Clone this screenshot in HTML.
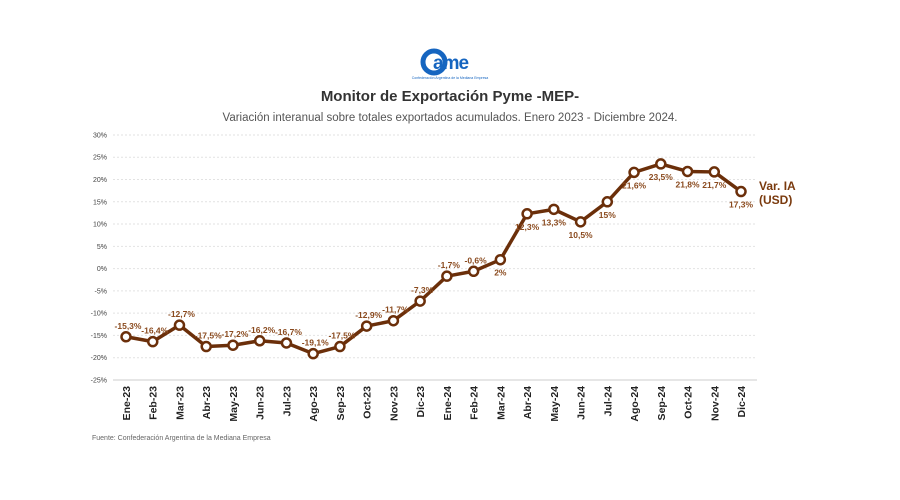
<!DOCTYPE html>
<html><head><meta charset="utf-8"><style>
body{margin:0;background:#fff;font-family:"Liberation Sans",sans-serif;}
#wrap{position:relative;width:900px;height:500px;overflow:hidden;}
</style></head><body>
<div id="wrap">
<svg id="chart" width="900" height="500">
  <g>
    <circle cx="434" cy="62" r="11" fill="none" stroke="#1565c0" stroke-width="5"/>
    <text x="433" y="69" font-size="19" font-weight="bold" fill="#1565c0" letter-spacing="-1">ame</text>
    <text x="450" y="79" font-size="3.5" fill="#1565c0" text-anchor="middle">Confederación Argentina de la Mediana Empresa</text>
  </g>
  <text x="450" y="101" font-size="15" font-weight="bold" fill="#333" text-anchor="middle">Monitor de Exportación Pyme -MEP-</text>
  <text x="450" y="121" font-size="11.5" fill="#555" text-anchor="middle">Variación interanual sobre totales exportados acumulados. Enero 2023 - Diciembre 2024.</text>
  <g id="grid"></g><g id="xaxis"></g><g id="series"></g>
  <text x="759" y="190" font-size="12" font-weight="bold" fill="#7a3a0e">Var. IA</text>
  <text x="759" y="204" font-size="12" font-weight="bold" fill="#7a3a0e">(USD)</text>
  <text x="92" y="440" font-size="7" fill="#666">Fuente: Confederación Argentina de la Mediana Empresa</text>
</svg>
</div>
<script>
const categories=["Ene-23","Feb-23","Mar-23","Abr-23","May-23","Jun-23","Jul-23","Ago-23","Sep-23","Oct-23","Nov-23","Dic-23","Ene-24","Feb-24","Mar-24","Abr-24","May-24","Jun-24","Jul-24","Ago-24","Sep-24","Oct-24","Nov-24","Dic-24"];
const values=[-15.3,-16.4,-12.7,-17.5,-17.2,-16.2,-16.7,-19.1,-17.5,-12.9,-11.7,-7.3,-1.7,-0.6,2,12.3,13.3,10.5,15,21.6,23.5,21.8,21.7,17.3];
const valueLabels=["-15,3%","-16,4%","-12,7%","-17,5%","-17,2%","-16,2%","-16,7%","-19,1%","-17,5%","-12,9%","-11,7%","-7,3%","-1,7%","-0,6%","2%","12,3%","13,3%","10,5%","15%","21,6%","23,5%","21,8%","21,7%","17,3%"];
const yTicks=[30,25,20,15,10,5,0,-5,-10,-15,-20,-25];
const NS="http://www.w3.org/2000/svg";
const yS=v=>268.6-v*4.4545;
const xS=i=>126+i*26.74;
function mk(t,a,p){const e=document.createElementNS(NS,t);for(const k in a)e.setAttribute(k,a[k]);p.appendChild(e);return e;}
const grid=document.getElementById('grid'),xa=document.getElementById('xaxis'),se=document.getElementById('series');
yTicks.forEach(v=>{
  const l=mk('line',{x1:113,x2:757,y1:yS(v),y2:yS(v),stroke:v===-25?'#ccc':'#e2e2e2','stroke-dasharray':v===-25?'':'2,2'},grid);
  
  
  const t=mk('text',{x:107,y:yS(v)+2.5,'font-size':7,fill:'#444','text-anchor':'end'},grid);
  t.textContent=v+'%';
  
  
});
categories.forEach((c,i)=>{
  const t=mk('text',{x:0,y:0,'font-size':10.5,'font-weight':'bold',fill:'#222','text-anchor':'end',transform:`translate(${xS(i)+4},${386}) rotate(-90)`},xa);
  t.textContent=c;
  
  
});
const pts=values.map((v,i)=>xS(i)+','+yS(v)).join(' ');
const pl=mk('polyline',{points:pts,fill:'none',stroke:'#6b2f0a','stroke-width':3.5,'stroke-linejoin':'round'},se);


values.forEach((v,i)=>{
  const c=mk('circle',{cx:xS(i),cy:yS(v),r:4.5,fill:'#fff',stroke:'#6b2f0a','stroke-width':2.5},se);
  
  
  const below=i>=14;
  const t=mk('text',{x:xS(i)+(below?0:2),y:yS(v)+(below?16:-8),'font-size':8.5,'font-weight':'bold',fill:'#8a4a1e','text-anchor':'middle'},se);
  t.textContent=valueLabels[i];
  
  
});
</script>
</body></html>
